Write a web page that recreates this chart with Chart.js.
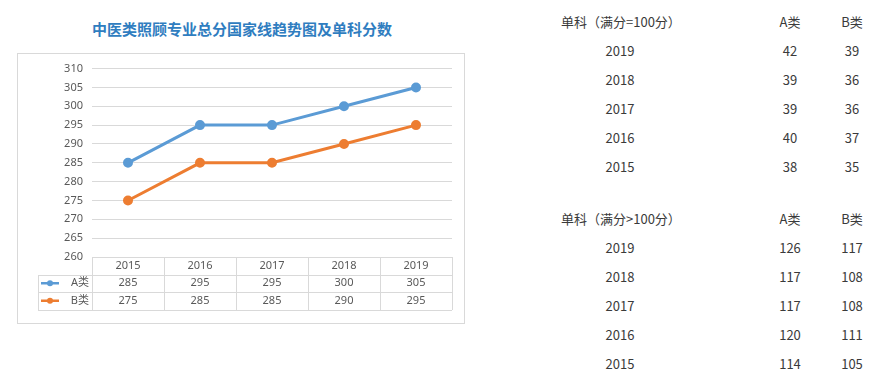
<!DOCTYPE html>
<html>
<head>
<meta charset="utf-8">
<script src="https://cdn.jsdelivr.net/npm/chart.js@4.4.1/dist/chart.umd.min.js"></script>
<style>
  html, body { margin: 0; padding: 0; background: #fff; }
  body { width: 880px; height: 385px; position: relative; overflow: hidden;
         font-family: "Noto Sans CJK SC", "Noto Sans", sans-serif; }
  #title { position: absolute; left: 0; width: 484px; top: 18px; text-align: center;
           font-size: 15px; font-weight: bold; color: #2f7dc0; line-height: 22px; }
  #box { position: absolute; left: 17px; top: 53px; width: 446px; height: 269px;
         border: 1px solid #d9d9d9; }
  #box canvas { position: absolute; left: -1px; top: -1px; }
  .t { position: absolute; font-size: 13px; color: #3a3a3a; line-height: 16px; white-space: nowrap; }
  .c { transform: translateX(-50%); }
</style>
</head>
<body>
<div id="title">中医类照顾专业总分国家线趋势图及单科分数</div>
<div id="box"><canvas id="trend" width="448" height="271"></canvas></div>
<div id="tables"></div>
<script>
// Trend chart data
const years = ["2015", "2016", "2017", "2018", "2019"];
const totalA = [285, 295, 295, 300, 305];
const totalB = [275, 285, 285, 290, 295];
const yTicks = [260, 265, 270, 275, 280, 285, 290, 295, 300, 305, 310];

// Single subject tables (newest first)
const singleYears = ["2019", "2018", "2017", "2016", "2015"];
const single100A = [42, 39, 39, 40, 38];
const single100B = [39, 36, 36, 37, 35];
const singleOverA = [126, 117, 117, 120, 114];
const singleOverB = [117, 108, 108, 111, 105];

const blue = "#5b9bd5";
const orange = "#ed7d31";
const gridColor = "#d9d9d9";
const textColor = "#595959";

// Data table under the plot, drawn with the x scale positions
const dataTablePlugin = {
  id: "dataTable",
  afterDraw(chart) {
    const ctx = chart.ctx;
    const xs = chart.scales.x;
    const area = chart.chartArea;
    const rowH = 17.5;
    const top = area.bottom;
    const step = (area.right - area.left) / years.length;
    const legendLeft = 21;

    ctx.save();
    ctx.strokeStyle = gridColor;
    ctx.lineWidth = 1;
    ctx.beginPath();
    // horizontal lines
    ctx.moveTo(area.left, top + 0.5); ctx.lineTo(area.right, top + 0.5);
    for (let r = 1; r <= 3; r++) {
      const y = Math.round(top + r * rowH) + 0.5;
      ctx.moveTo(legendLeft, y); ctx.lineTo(area.right, y);
    }
    // vertical lines
    for (let i = 0; i <= years.length; i++) {
      const x = Math.round(area.left + i * step) + 0.5;
      ctx.moveTo(x, top); ctx.lineTo(x, Math.round(top + 3 * rowH));
    }
    ctx.moveTo(legendLeft + 0.5, Math.round(top + rowH)); ctx.lineTo(legendLeft + 0.5, Math.round(top + 3 * rowH));
    ctx.stroke();

    ctx.font = '11px "Noto Sans", "Noto Sans CJK SC", sans-serif';
    ctx.fillStyle = textColor;
    ctx.textAlign = "center";
    ctx.textBaseline = "middle";
    const rows = [years, totalA, totalB];
    rows.forEach((row, r) => {
      const y = top + r * rowH + rowH / 2;
      row.forEach((v, i) => ctx.fillText(String(v), xs.getPixelForValue(i), y));
    });

    // legend keys
    const keys = [["A类", blue], ["B类", orange]];
    keys.forEach(([label, color], k) => {
      const y = top + (k + 1) * rowH + rowH / 2;
      ctx.strokeStyle = color;
      ctx.lineWidth = 2.5;
      ctx.beginPath(); ctx.moveTo(legendLeft + 3, y); ctx.lineTo(legendLeft + 21, y); ctx.stroke();
      ctx.fillStyle = color;
      ctx.beginPath(); ctx.arc(legendLeft + 12, y, 3, 0, Math.PI * 2); ctx.fill();
      ctx.fillStyle = textColor;
      ctx.textAlign = "right";
      ctx.fillText(label, area.left - 3, y);
    });
    ctx.restore();
  }
};

new Chart(document.getElementById("trend"), {
  type: "line",
  data: {
    labels: years,
    datasets: [
      { label: "A类", data: totalA, borderColor: blue, backgroundColor: blue,
        borderWidth: 3, pointRadius: 3.5, pointHoverRadius: 3.5 },
      { label: "B类", data: totalB, borderColor: orange, backgroundColor: orange,
        borderWidth: 3, pointRadius: 3.5, pointHoverRadius: 3.5 }
    ]
  },
  options: {
    responsive: false,
    animation: false,
    layout: { padding: { top: 14, right: 13, bottom: 67, left: 0 } },
    plugins: { legend: { display: false }, tooltip: { enabled: false } },
    scales: {
      x: { offset: true, display: false },
      y: {
        min: 260, max: 310,
        afterBuildTicks: (s) => { s.ticks = yTicks.map((v) => ({ value: v })); },
        afterFit: (s) => { s.width = 75; },
        border: { display: false },
        grid: { color: gridColor, drawTicks: false },
        ticks: { color: textColor, padding: 9, font: { size: 11, family: '"Noto Sans", sans-serif' } }
      }
    }
  },
  plugins: [dataTablePlugin]
});

// Right side single subject tables
const tables = document.getElementById("tables");
function addText(txt, x, y, center) {
  const el = document.createElement("div");
  el.className = "t" + (center ? " c" : "");
  el.textContent = txt;
  el.style.left = x + "px";
  el.style.top = (y - 8) + "px";
  tables.appendChild(el);
}
function buildTable(header, valsA, valsB, headerY, firstRowY) {
  addText(header, 561, headerY, false);
  addText("A类", 790, headerY, true);
  addText("B类", 852, headerY, true);
  singleYears.forEach((yr, i) => {
    const y = firstRowY + i * 29;
    addText(yr, 620, y, true);
    addText(String(valsA[i]), 790, y, true);
    addText(String(valsB[i]), 852, y, true);
  });
}
buildTable("单科（满分=100分）", single100A, single100B, 22, 51);
buildTable("单科（满分>100分）", singleOverA, singleOverB, 219, 248);
</script>
</body>
</html>
